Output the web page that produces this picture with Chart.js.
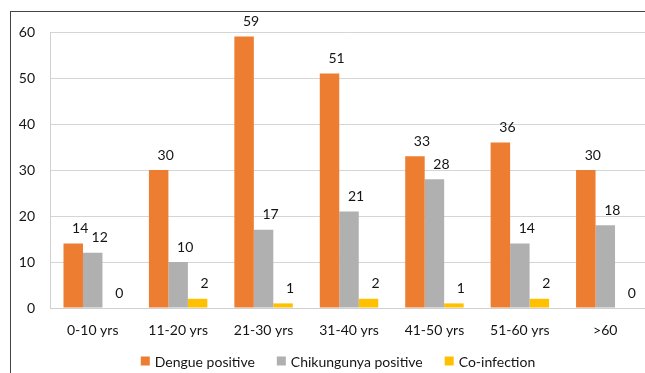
<!DOCTYPE html>
<html>
<head>
<meta charset="utf-8">
<script src="https://cdn.jsdelivr.net/npm/chart.js@4/dist/chart.umd.min.js"></script>
<style>
  html, body { margin: 0; padding: 0; background: #fff; overflow: hidden; }
  body { width: 645px; height: 373px; position: relative; }
  #frame { position: absolute; left: 10px; top: 11px; width: 700px; height: 400px;
           border-top: 1.5px solid #444; border-left: 1.5px solid #444; box-sizing: border-box; }
  #wrap { position: absolute; left: 0; top: 0; width: 648px; height: 373px; }
</style>
</head>
<body>
<div id="frame"></div>
<div id="wrap"><canvas id="c" width="648" height="373"></canvas></div>
<script>
const categories = ['0-10 yrs', '11-20 yrs', '21-30 yrs', '31-40 yrs', '41-50 yrs', '51-60 yrs', '>60'];
const dengue = [14, 30, 59, 51, 33, 36, 30];
const chikungunya = [12, 10, 17, 21, 28, 14, 18];
const coInfection = [0, 2, 1, 2, 1, 2, 0];
const yTicks = [0, 10, 20, 30, 40, 50, 60];

const FONT = 'Lato, "Open Sans", sans-serif';
const TEXT = '#141414';

// Value labels drawn just above and slightly right of each bar
const valueLabels = {
  id: 'valueLabels',
  afterDatasetsDraw(chart) {
    const ctx = chart.ctx;
    ctx.save();
    ctx.font = '14px ' + FONT;
    ctx.fillStyle = TEXT;
    ctx.textAlign = 'center';
    ctx.textBaseline = 'middle';
    chart.data.datasets.forEach((ds, i) => {
      chart.getDatasetMeta(i).data.forEach((bar, j) => {
        ctx.fillText(String(ds.data[j]), bar.x + 7, bar.y - 15);
      });
    });
    ctx.restore();
  }
};

// Horizontal legend row under the axis labels
const bottomLegend = {
  id: 'bottomLegend',
  afterDraw(chart) {
    const ctx = chart.ctx;
    const box = 9, gapText = 5, gapItem = 22, cy = 361, centerX = 338;
    ctx.save();
    ctx.font = '14px ' + FONT;
    ctx.textBaseline = 'middle';
    ctx.textAlign = 'left';
    const items = chart.data.datasets.map(ds => ({
      text: ds.label, color: ds.backgroundColor, w: ctx.measureText(ds.label).width
    }));
    const total = items.reduce((s, it) => s + box + gapText + it.w, 0) + gapItem * (items.length - 1);
    let x = centerX - total / 2;
    items.forEach(it => {
      ctx.fillStyle = it.color;
      ctx.fillRect(x, cy - box / 2, box, box);
      x += box + gapText;
      ctx.fillStyle = TEXT;
      ctx.fillText(it.text, x, cy + 1);
      x += it.w + gapItem;
    });
    ctx.restore();
  }
};

new Chart(document.getElementById('c'), {
  type: 'bar',
  data: {
    labels: categories,
    datasets: [
      { label: 'Dengue positive', data: dengue, backgroundColor: '#ED7D31' },
      { label: 'Chikungunya positive', data: chikungunya, backgroundColor: '#B0B0B0' },
      { label: 'Co-infection', data: coInfection, backgroundColor: '#FFC000' }
    ]
  },
  options: {
    responsive: false,
    animation: false,
    layout: { padding: { top: 32, left: 0, right: 0, bottom: 0 } },
    datasets: { bar: { categoryPercentage: 0.684, barPercentage: 1.0 } },
    plugins: {
      legend: { display: false },
      tooltip: { enabled: false }
    },
    scales: {
      x: {
        grid: { display: false, drawTicks: false },
        border: { color: '#D0D0D0', width: 1 },
        ticks: { color: TEXT, font: { family: FONT, size: 14 }, padding: 14, maxRotation: 0 },
        afterFit(scale) { scale.height = 65; }
      },
      y: {
        min: 0, max: 60,
        afterBuildTicks(scale) { scale.ticks = yTicks.map(v => ({ value: v })); },
        grid: { color: '#D5D5D5', drawTicks: false, lineWidth: 1 },
        border: { color: '#D0D0D0', width: 1 },
        ticks: { color: TEXT, font: { family: FONT, size: 14 }, padding: 15 },
        afterFit(scale) { scale.width = 50; }
      }
    }
  },
  plugins: [valueLabels, bottomLegend]
});
</script>
</body>
</html>
